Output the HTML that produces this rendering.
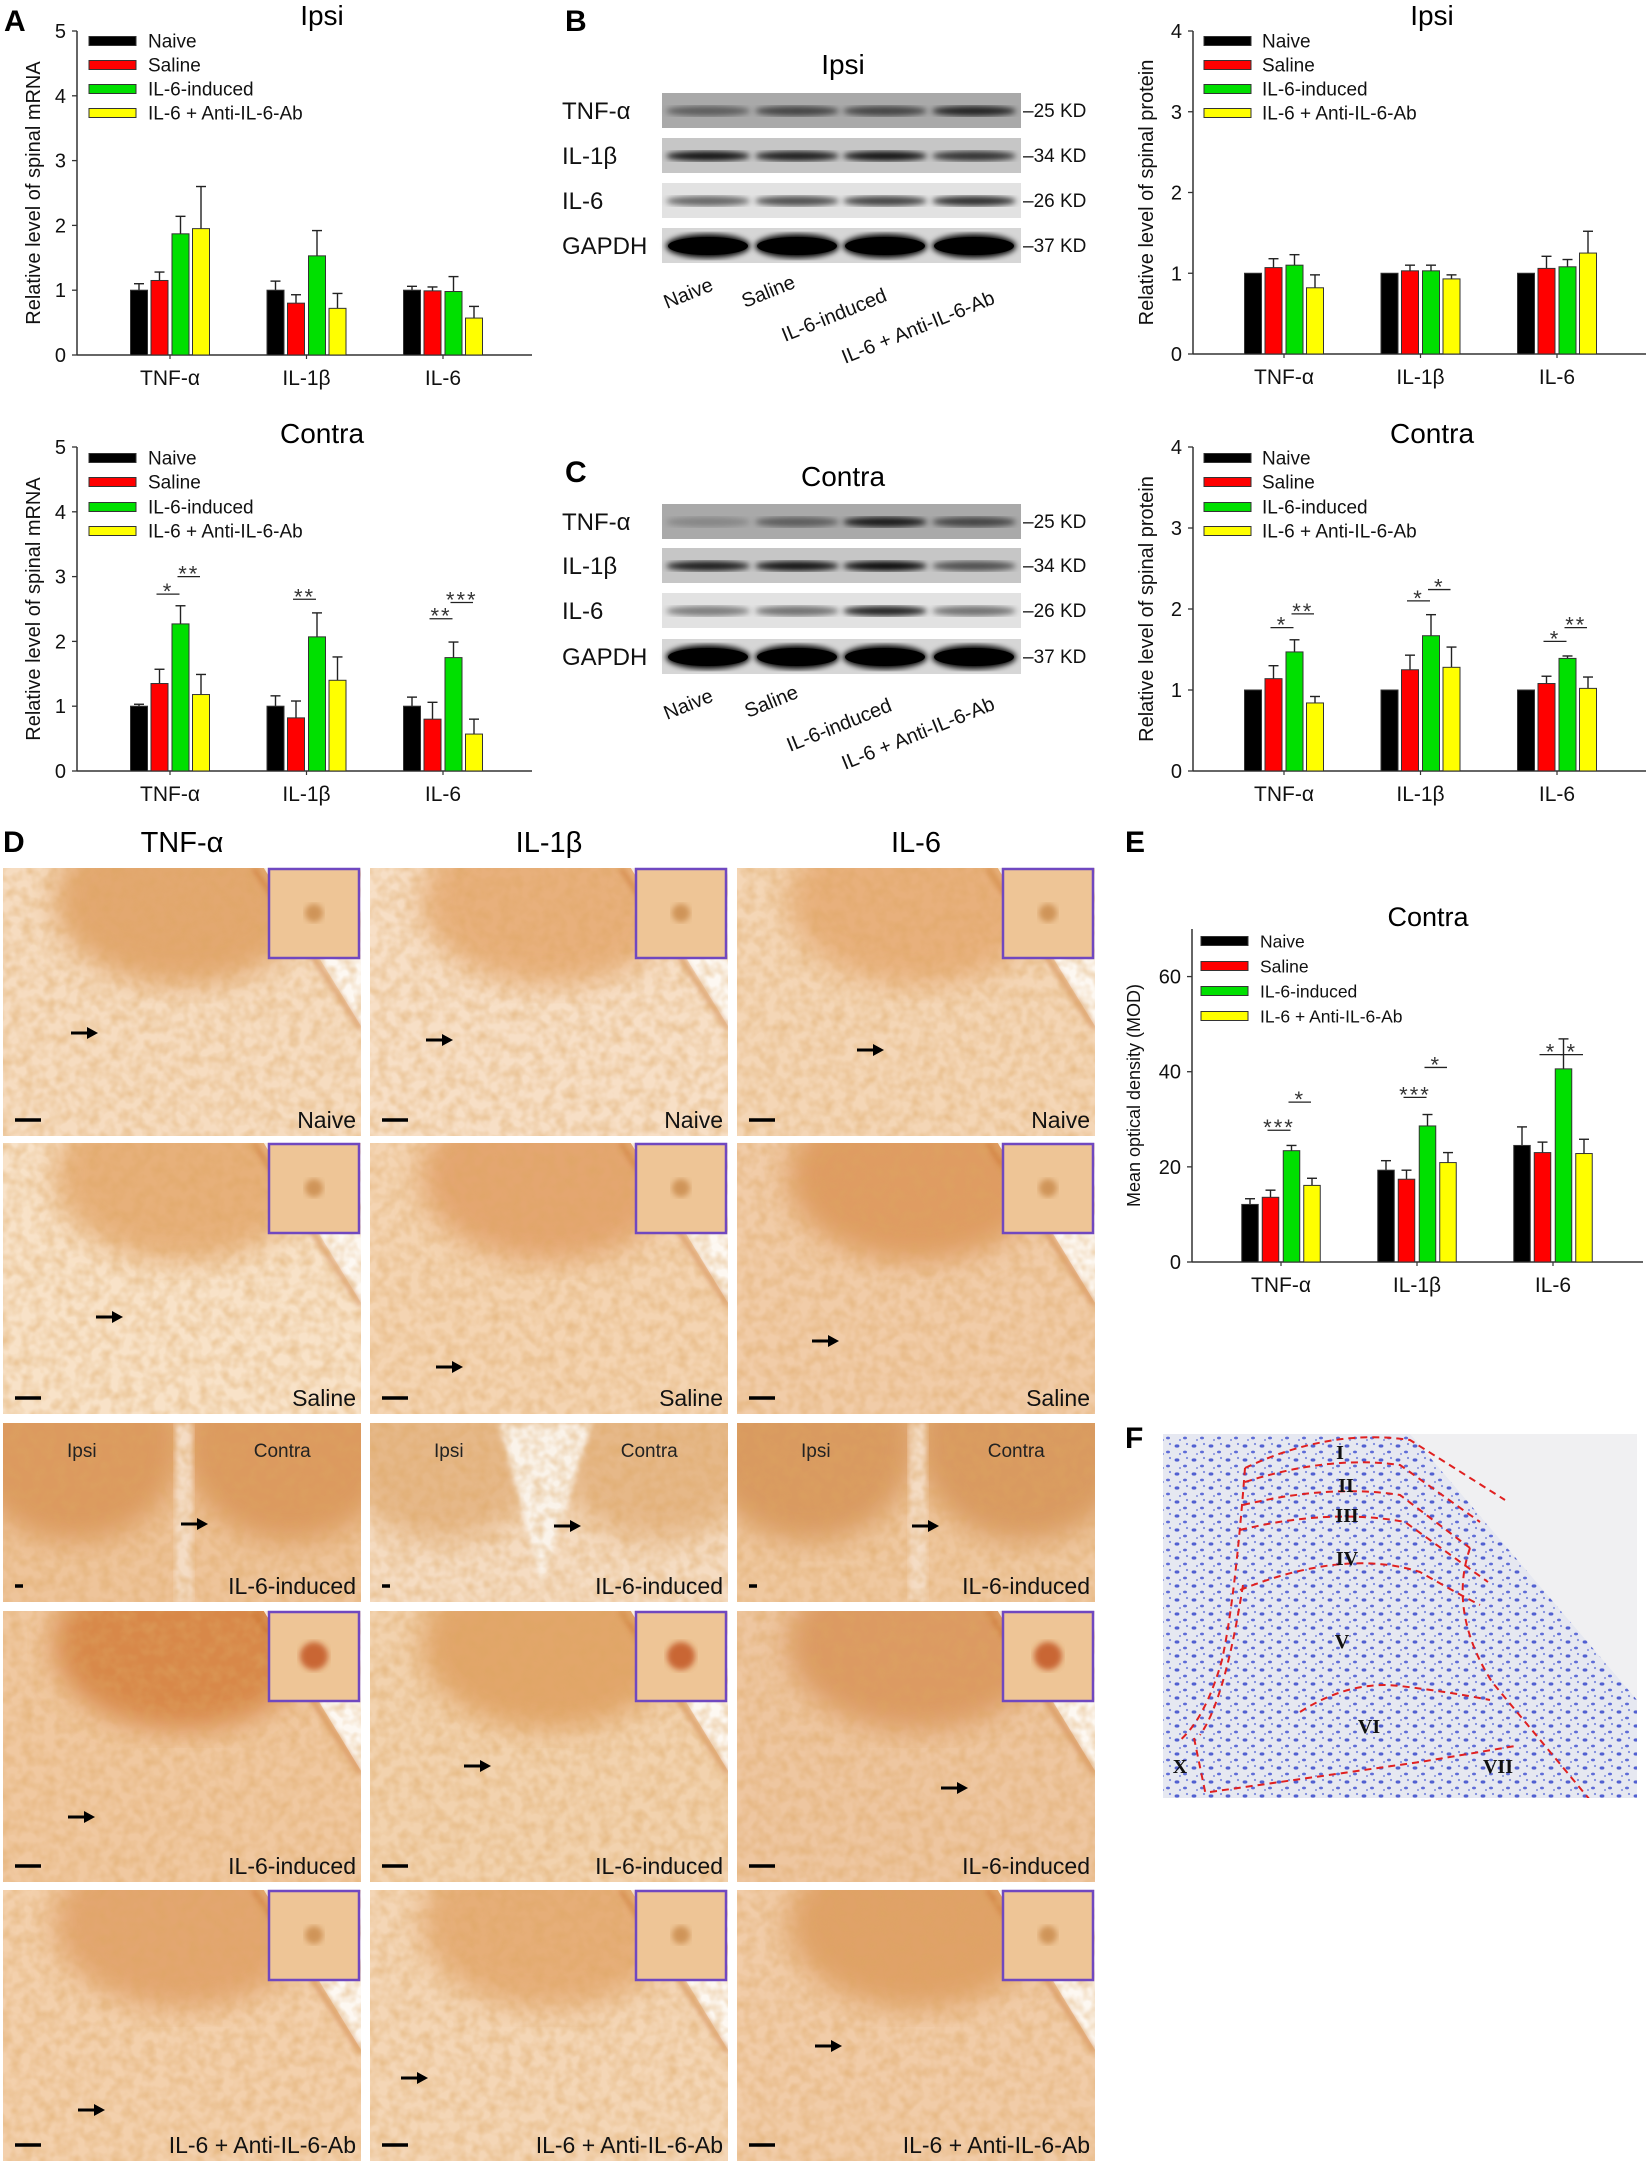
<!DOCTYPE html>
<html><head><meta charset="utf-8"><style>
html,body{margin:0;padding:0;background:#fff}
svg{display:block;font-family:"Liberation Sans",Arial,sans-serif}
</style></head><body>
<svg id="fig" width="1650" height="2164" viewBox="0 0 1650 2164" xmlns="http://www.w3.org/2000/svg">
<defs>
<filter id="tex" x="0" y="0" width="100%" height="100%">
<feTurbulence type="fractalNoise" baseFrequency="0.09" numOctaves="2" seed="3" result="n"/>
<feColorMatrix in="n" type="matrix" values="0 0 0 0 0.72  0 0 0 0 0.38  0 0 0 0 0.12  0 0 0 -1.6 1.05"/>
</filter>
<filter id="blur6"><feGaussianBlur stdDeviation="6"/></filter>
<filter id="blur3"><feGaussianBlur stdDeviation="3"/></filter>
<filter id="blur14"><feGaussianBlur stdDeviation="14"/></filter>
<pattern id="nissl" width="17" height="14" patternUnits="userSpaceOnUse">
<rect width="17" height="14" fill="#e4e7f0"/>
<ellipse cx="4" cy="4" rx="2.4" ry="1.6" fill="#2a3cc8"/>
<ellipse cx="12" cy="10" rx="2" ry="1.4" fill="#3a4cd0"/>
<circle cx="14" cy="2" r="1.1" fill="#6070d8"/>
<circle cx="7" cy="12" r="1" fill="#6070d8"/>
</pattern>
</defs>
<g id="root"></g>
</svg>
<script>
const NS='http://www.w3.org/2000/svg';
const root=document.getElementById('root');
function el(tag,attrs,parent,text){const e=document.createElementNS(NS,tag);for(const k in attrs)e.setAttribute(k,attrs[k]);if(text!==undefined)e.textContent=text;(parent||root).appendChild(e);return e;}

const categories=['TNF-α','IL-1β','IL-6'];
const seriesNames=['Naive','Saline','IL-6-induced','IL-6 + Anti-IL-6-Ab'];
const seriesColors=['#000000','#ff0000','#00e000','#ffff00'];

// A ipsi mRNA
const aIpsiNaive=[1.0,1.0,1.0];
const aIpsiSaline=[1.15,0.80,0.99];
const aIpsiInduced=[1.87,1.53,0.98];
const aIpsiAnti=[1.95,0.72,0.57];
const aIpsiNaiveErr=[0.10,0.14,0.06];
const aIpsiSalineErr=[0.13,0.13,0.06];
const aIpsiInducedErr=[0.27,0.39,0.23];
const aIpsiAntiErr=[0.65,0.23,0.18];
// A contra mRNA
const aContraNaive=[1.0,1.0,1.0];
const aContraSaline=[1.35,0.82,0.80];
const aContraInduced=[2.27,2.07,1.75];
const aContraAnti=[1.18,1.40,0.57];
const aContraNaiveErr=[0.03,0.16,0.14];
const aContraSalineErr=[0.22,0.26,0.26];
const aContraInducedErr=[0.28,0.37,0.24];
const aContraAntiErr=[0.31,0.36,0.23];
const aContraSigCat=[0,0,1,2,2];
const aContraSigFrom=[1,2,1,1,2];
const aContraSigTo=[2,3,2,2,3];
const aContraSigY=[2.73,3.0,2.65,2.35,2.6];
const aContraSigLabel=['*','**','**','**','***'];
// B ipsi protein
const bIpsiNaive=[1.0,1.0,1.0];
const bIpsiSaline=[1.07,1.03,1.06];
const bIpsiInduced=[1.10,1.03,1.08];
const bIpsiAnti=[0.82,0.93,1.25];
const bIpsiNaiveErr=[0,0,0];
const bIpsiSalineErr=[0.11,0.07,0.15];
const bIpsiInducedErr=[0.13,0.07,0.09];
const bIpsiAntiErr=[0.16,0.05,0.27];
// C contra protein
const cContraNaive=[1.0,1.0,1.0];
const cContraSaline=[1.14,1.25,1.08];
const cContraInduced=[1.47,1.67,1.39];
const cContraAnti=[0.84,1.28,1.02];
const cContraNaiveErr=[0,0,0];
const cContraSalineErr=[0.16,0.18,0.09];
const cContraInducedErr=[0.15,0.26,0.03];
const cContraAntiErr=[0.08,0.25,0.14];
const cContraSigCat=[0,0,1,1,2,2];
const cContraSigFrom=[1,2,1,2,1,2];
const cContraSigTo=[2,3,2,3,2,3];
const cContraSigY=[1.77,1.94,2.10,2.24,1.60,1.77];
const cContraSigLabel=['*','**','*','*','*','**'];
// E mean optical density
const eNaive=[12.1,19.3,24.5];
const eSaline=[13.6,17.4,23.0];
const eInduced=[23.4,28.6,40.6];
const eAnti=[16.1,20.9,22.8];
const eNaiveErr=[1.2,2.0,3.9];
const eSalineErr=[1.5,1.9,2.2];
const eInducedErr=[1.1,2.4,6.3];
const eAntiErr=[1.5,2.1,3.0];
const eSigCat=[0,0,1,1,2,2];
const eSigFrom=[1,2,1,2,1,2];
const eSigTo=[2,3,2,3,2,3];
const eSigY=[27.7,33.6,34.6,40.9,43.6,43.6];
const eSigLabel=['***','*','***','*','*','*'];

const ticksA=[0,1,2,3,4,5];
const ticksB=[0,1,2,3,4];
const ticksE=[0,20,40,60];

function barChart(name,o){
  const g=el('g',{},root);
  
  
  const yS=v=>o.yBot-(v/o.max)*(o.yBot-o.yTop);
  const xC=i=>o.x0+o.off+i*o.step;
  const barOff=[-31,-10.5,10.5,31];
  const bx=(i,s)=>xC(i)+barOff[s];
  const ya=el('line',{x1:o.x0,y1:o.yTop,x2:o.x0,y2:o.yBot,stroke:'#333','stroke-width':1.5},g);
  
  
  const xa=el('line',{x1:o.x0,y1:o.yBot,x2:o.x1,y2:o.yBot,stroke:'#333','stroke-width':1.5},g);
  
  
  o.ticks.forEach(t=>{
    el('line',{x1:o.x0-5,y1:yS(t),x2:o.x0,y2:yS(t),stroke:'#333','stroke-width':1.3},g);
    const tl=el('text',{x:o.x0-11,y:yS(t)+7,'text-anchor':'end','font-size':o.tickFs||20,fill:'#111'},g,String(t));
    
    
  });
  categories.forEach((c,i)=>{
    el('line',{x1:xC(i),y1:o.yBot,x2:xC(i),y2:o.yBot+4,stroke:'#333','stroke-width':1.2},g);
    const cl=el('text',{x:xC(i),y:o.yBot+30,'text-anchor':'middle','font-size':o.catFs||21,fill:'#111'},g,c);
    
    
  });
  const yl=el('text',{x:0,y:0,transform:`translate(${o.ylx},${(o.yTop+o.yBot)/2}) rotate(-90)`,'text-anchor':'middle','font-size':o.ylFs||20,fill:'#111'},g,o.ylabel);
  
  
  const tt=el('text',{x:o.tx,y:o.ty,'text-anchor':'middle','font-size':o.tFs||28,fill:'#000'},g,o.title);
  
  
  const bw=o.bw||17;
  o.series.forEach((vals,s)=>{
    vals.forEach((v,i)=>{
      const x=bx(i,s)-bw/2;
      const e=o.errs[s][i];
      if(e>0){
        el('line',{x1:bx(i,s),y1:yS(v),x2:bx(i,s),y2:yS(v+e),stroke:'#222','stroke-width':1.4},g);
        el('line',{x1:bx(i,s)-5,y1:yS(v+e),x2:bx(i,s)+5,y2:yS(v+e),stroke:'#222','stroke-width':1.4},g);
      }
      const r=el('rect',{x:x,y:yS(v),width:bw,height:o.yBot-yS(v),fill:seriesColors[s],stroke:'#333','stroke-width':1},g);
      
      
    });
  });
  if(o.sigCat){
    o.sigCat.forEach((c,k)=>{
      const xa1=bx(c,o.sigFrom[k])-3, xb=bx(c,o.sigTo[k])-1, yy=yS(o.sigY[k]);
      el('line',{x1:xa1,y1:yy,x2:xb,y2:yy,stroke:'#222','stroke-width':1.3},g);
      const st=el('text',{x:(xa1+xb)/2,y:yy+5,'text-anchor':'middle','font-size':22,fill:'#333','letter-spacing':2},g,o.sigLabel[k]);
      
      
    });
  }
  seriesNames.forEach((n,s)=>{
    const cy=o.legY[s];
    const sw=el('rect',{x:o.legX,y:cy-4.5,width:o.legW||47,height:9,fill:seriesColors[s],stroke:'#333','stroke-width':1},g);
    
    
    const lt=el('text',{x:o.legTx,y:cy+6.5,'font-size':o.legFs||19,fill:'#111'},g,n);
    
    
  });
}

barChart('chart-a-ipsi-mrna',{x0:77,x1:532,yTop:31,yBot:355,max:5,off:93,step:136.5,ticks:ticksA,ylabel:'Relative level of spinal mRNA',ylx:40,title:'Ipsi',tx:322,ty:25,
  series:[aIpsiNaive,aIpsiSaline,aIpsiInduced,aIpsiAnti],errs:[aIpsiNaiveErr,aIpsiSalineErr,aIpsiInducedErr,aIpsiAntiErr],
  legX:89,legTx:148,legY:[41,65,89,113]});
barChart('chart-a-contra-mrna',{x0:77,x1:532,yTop:447,yBot:771,max:5,off:93,step:136.5,ticks:ticksA,ylabel:'Relative level of spinal mRNA',ylx:40,title:'Contra',tx:322,ty:443,
  series:[aContraNaive,aContraSaline,aContraInduced,aContraAnti],errs:[aContraNaiveErr,aContraSalineErr,aContraInducedErr,aContraAntiErr],
  sigCat:aContraSigCat,sigFrom:aContraSigFrom,sigTo:aContraSigTo,sigY:aContraSigY,sigLabel:aContraSigLabel,
  legX:89,legTx:148,legY:[458,482,507,531]});
barChart('chart-b-ipsi-protein',{x0:1193,x1:1646,yTop:31,yBot:354,max:4,off:91,step:136.5,ticks:ticksB,ylabel:'Relative level of spinal protein',ylx:1153,title:'Ipsi',tx:1432,ty:25,
  series:[bIpsiNaive,bIpsiSaline,bIpsiInduced,bIpsiAnti],errs:[bIpsiNaiveErr,bIpsiSalineErr,bIpsiInducedErr,bIpsiAntiErr],
  legX:1204,legTx:1262,legY:[41,65,89,113]});
barChart('chart-c-contra-protein',{x0:1193,x1:1646,yTop:447,yBot:771,max:4,off:91,step:136.5,ticks:ticksB,ylabel:'Relative level of spinal protein',ylx:1153,title:'Contra',tx:1432,ty:443,
  series:[cContraNaive,cContraSaline,cContraInduced,cContraAnti],errs:[cContraNaiveErr,cContraSalineErr,cContraInducedErr,cContraAntiErr],
  sigCat:cContraSigCat,sigFrom:cContraSigFrom,sigTo:cContraSigTo,sigY:cContraSigY,sigLabel:cContraSigLabel,
  legX:1204,legTx:1262,legY:[458,482,507,531]});
barChart('chart-e-optical-density',{x0:1192,x1:1643,yTop:929,yBot:1262,max:70,off:89,step:136,ticks:ticksE,ylabel:'Mean optical density (MOD)',ylx:1140,ylFs:18,title:'Contra',tx:1428,ty:926,tFs:27,bw:16.5,
  series:[eNaive,eSaline,eInduced,eAnti],errs:[eNaiveErr,eSalineErr,eInducedErr,eAntiErr],
  sigCat:eSigCat,sigFrom:eSigFrom,sigTo:eSigTo,sigY:eSigY,sigLabel:eSigLabel,
  legX:1201,legTx:1260,legY:[941,966,991,1016],legFs:17.5});

[['A',4,31],['B',565,31],['C',565,482],['D',3,852],['E',1125,852],['F',1125,1448]].forEach(p=>{
  const t=el('text',{x:p[1],y:p[2],'font-size':30,'font-weight':'bold',fill:'#000'},root,p[0]);
  
  
});

const blotLanes=[708,797,885,974];
const blotRows=['TNF-α','IL-1β','IL-6','GAPDH'];
const blotKD=['–25 KD','–34 KD','–26 KD','–37 KD'];
const blotBg=['#a9a9a9','#c6c6c6','#e2e2e2','#d6d6d6'];
const ipsiBand=[[0.45,0.6,0.6,0.8],[0.9,0.85,0.9,0.75],[0.55,0.65,0.7,0.8],[1,1,1,1]];
const contraBand=[[0.2,0.45,0.85,0.6],[0.85,0.9,0.95,0.6],[0.45,0.5,0.85,0.5],[1,1,1,1]];
function blot(name,top,title,titleY,bands,laneY){
  const g=el('g',{},root);
  
  
  const tt=el('text',{x:843,y:titleY,'text-anchor':'middle','font-size':28,fill:'#000'},g,title);
  
  
  blotRows.forEach((r,k)=>{
    const y=top[k];
    const strip=el('rect',{x:662,y:y,width:359,height:35,fill:blotBg[k]},g);
    
    
    blotLanes.forEach((lx,j)=>{
      const a=bands[k][j];
      const h=k===3?12:5;
      el('ellipse',{cx:lx,cy:y+18,rx:42,ry:h,fill:'#000',opacity:a,filter:'url(#blur3)'},g);
      if(k===3) el('ellipse',{cx:lx,cy:y+18,rx:40,ry:9,fill:'#000'},g);
    });
    const lb=el('text',{x:562,y:y+26,'font-size':24,fill:'#111'},g,r);
    
    
    const kd=el('text',{x:1023,y:y+24,'font-size':19,fill:'#111'},g,blotKD[k]);
    
    
  });
  seriesNames.forEach((n,j)=>{
    const l=el('text',{x:0,y:0,transform:`translate(${laneY[j][0]},${laneY[j][1]}) rotate(-22)`,'font-size':20,fill:'#111'},g,n);
    
    
  });
}
blot('western-blot-ipsi',[93,138,183,228],'Ipsi',74,ipsiBand,[[667,309],[745,308],[785,342],[845,364]]);
blot('western-blot-contra',[504,548,593,639],'Contra',486,contraBand,[[667,720],[748,718],[790,752],[845,770]]);

const colX=[3,370,737];
const rowY=[868,1143,1423,1611,1890];
const rowH=[268,271,179,271,271];
const colHead=['TNF-α','IL-1β','IL-6'];
const rowLabel=['Naive','Saline','IL-6-induced','IL-6-induced','IL-6 + Anti-IL-6-Ab'];
const arrows=[[[84,1033],[439,1040],[870,1050]],[[109,1317],[449,1367],[825,1341]],[[194,1524],[567,1526],[925,1526]],[[81,1817],[477,1766],[954,1788]],[[91,2110],[414,2078],[828,2046]]];
const domeTone=[['#e3a870','#e8b07c','#e8b07c'],['#e7b07a','#e4a670','#df9c62'],['#dc9a5e','#e6b888','#d99a60'],['#d88848','#e2a66a','#dc9a62'],['#e3a670','#e6ae78','#e0a268']];
const baseTone=[['#f6dcc0','#f7dfc6','#f4d6b6'],['#f8e2c8','#f4d4b2','#f1cca8'],['#eec49a','#f5dcc2','#efc8a0'],['#f0c8a0','#f2d2ae','#eec6a0'],['#f3d0ac','#f4d6b6','#f1cca8']];
colHead.forEach((h,c)=>{
  const t=el('text',{x:colX[c]+179,y:852,'text-anchor':'middle','font-size':29,fill:'#000'},root,h);
  
  
});
for(let r=0;r<5;r++){
  for(let c=0;c<3;c++){
    const x=colX[c], y=rowY[r], w=358, h=rowH[r];
    const g=el('g',{},root);
    
    
    const cp=el('clipPath',{id:'cp'+r+c},g);
    el('rect',{x:x,y:y,width:w,height:h},cp);
    const inner=el('g',{'clip-path':`url(#cp${r}${c})`},g);
    el('rect',{x:x,y:y,width:w,height:h,fill:baseTone[r][c]},inner);
    if(r===2){
      el('ellipse',{cx:x+w*0.2,cy:y+20,rx:w*0.3,ry:h*0.55,fill:domeTone[r][c],filter:'url(#blur14)'},inner);
      el('ellipse',{cx:x+w*0.8,cy:y+20,rx:w*0.3,ry:h*0.55,fill:domeTone[r][c],filter:'url(#blur14)'},inner);
      if(c===1) el('polygon',{points:`${x+w*0.36},${y} ${x+w*0.62},${y} ${x+w*0.48},${y+h*0.9}`,fill:'#faf3ea',filter:'url(#blur3)'},inner);
      else el('rect',{x:x+w*0.48,y:y,width:w*0.05,height:h,fill:'#f4dcc4',filter:'url(#blur3)'},inner);
    } else {
      el('ellipse',{cx:x+w*0.5,cy:y+h*0.12,rx:w*0.36,ry:h*0.32,fill:domeTone[r][c],filter:'url(#blur14)'},inner);
      el('polygon',{points:`${x+w*0.72},${y-5} ${x+w+5},${y-5} ${x+w+5},${y+h*0.62}`,fill:'#fdf8f2'},inner);
      el('line',{x1:x+w*0.7,y1:y,x2:x+w,y2:y+h*0.6,stroke:'#c8702c','stroke-width':4,opacity:0.7,filter:'url(#blur3)'},inner);
    }
    el('rect',{x:x,y:y,width:w,height:h,filter:'url(#tex)',opacity:0.55},inner);
    if(r!==2){
      const ins=el('rect',{x:x+w-92,y:y+1,width:90,height:89,fill:'#eec596',stroke:'#7048c0','stroke-width':2.5},g);
      
      
      el('circle',{cx:x+w-47,cy:y+45,r:r===3?14:9,fill:r===3?'#c0501c':'#c88848',opacity:0.8,filter:'url(#blur3)'},g);
    } else {
      const ti=el('text',{x:x+w*0.22,y:y+34,'text-anchor':'middle','font-size':19,fill:'#222'},g,'Ipsi');
      
      
      const tc=el('text',{x:x+w*0.78,y:y+34,'text-anchor':'middle','font-size':19,fill:'#222'},g,'Contra');
      
      
    }
    const sb=el('line',{x1:x+12,y1:y+h-16,x2:x+(r===2?20:38),y2:y+h-16,stroke:'#000','stroke-width':3.5},g);
    
    
    const [ax,ay]=arrows[r][c];
    const ar=el('g',{},g);
    
    
    el('line',{x1:ax-13,y1:ay,x2:ax+6,y2:ay,stroke:'#000','stroke-width':3},ar);
    el('polygon',{points:`${ax+14},${ay} ${ax+3},${ay-6} ${ax+3},${ay+6}`,fill:'#000'},ar);
    const lt=el('text',{x:x+w-5,y:y+h-8,'text-anchor':'end','font-size':23,fill:'#111'},g,rowLabel[r]);
    
    
  }
}

const fg=el('g',{},root);


const fcp=el('clipPath',{id:'fclip'},fg);
el('rect',{x:1163,y:1434,width:474,height:364},fcp);
const fin=el('g',{'clip-path':'url(#fclip)'},fg);
el('rect',{x:1163,y:1434,width:474,height:364,fill:'url(#nissl)'},fin);
el('polygon',{points:'1410,1434 1637,1434 1637,1700',fill:'#f0f0f2'},fin);
el('rect',{x:1163,y:1434,width:474,height:364,fill:'#eef0f6',opacity:0.2},fin);
const lamPaths=['M1245,1468 Q1330,1428 1410,1440 L1505,1500','M1245,1482 Q1330,1455 1400,1465 L1480,1522','M1243,1505 Q1330,1484 1400,1495 L1470,1548','M1240,1530 Q1330,1508 1405,1522 L1488,1582','M1240,1590 Q1345,1548 1420,1572 Q1460,1595 1480,1605','M1300,1712 Q1350,1680 1400,1686 Q1450,1692 1490,1700','M1210,1792 Q1350,1772 1420,1762 Q1480,1752 1515,1746','M1245,1468 Q1235,1600 1222,1660 Q1205,1720 1178,1742','M1243,1585 Q1225,1700 1200,1735','M1194,1738 L1206,1796','M1470,1548 Q1448,1612 1492,1682 L1590,1800'];
lamPaths.forEach(d=>{
  const p=el('path',{d:d,fill:'none',stroke:'#e02020','stroke-width':2,'stroke-dasharray':'7 5'},fin);
  
  
});
[['I',1340,1459],['II',1346,1492],['III',1347,1522],['IV',1347,1565],['V',1342,1648],['VI',1369,1733],['VII',1498,1773],['X',1180,1773]].forEach(n=>{
  const t=el('text',{x:n[1],y:n[2],'text-anchor':'middle','font-size':20,'font-weight':'bold','font-family':'"Liberation Serif",serif',fill:'#111'},fg,n[0]);
  
  
});
</script>
</body></html>
